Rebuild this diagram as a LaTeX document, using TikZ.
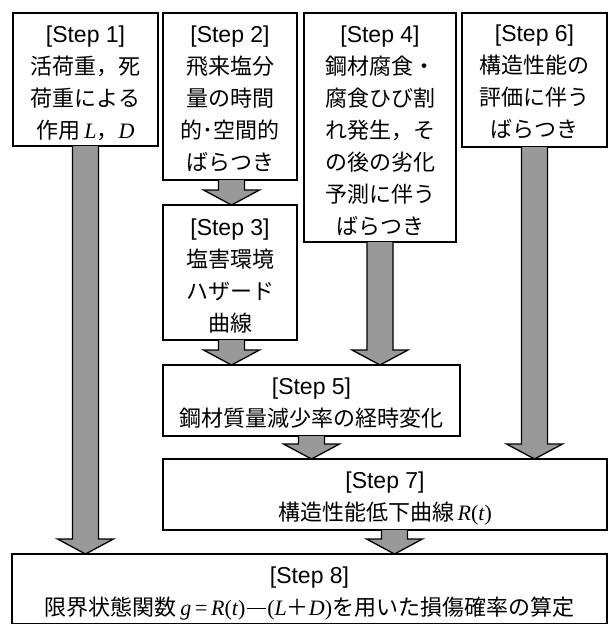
\documentclass[tikz,border=0pt]{standalone}
\usepackage{fontspec}
\setmainfont{Liberation Sans}
\newfontfamily\jp{Noto Sans CJK JP}
\newfontfamily\tms{Liberation Serif}
\usetikzlibrary{calc}
\definecolor{arrowgray}{RGB}{153,153,153}
\newcommand\stp[1]{{\fontsize{23}{31}\selectfont [Step #1]}}
\newcommand\mi[1]{{\tms\itshape #1}}
\newcommand\longminus{\kern1.5pt\rule[7pt]{19pt}{1.3pt}\kern1.5pt}
\newcommand\blockarrow[3][0]{%
  \path ($(#2.south)+(#1,0)$) coordinate (as) (as |- #3.north) coordinate (at);
  \draw[blkarrow] ($(as)+(-13,0)$) -- ($(at)+(-13,-15)$) -- ($(at)+(-28,-15)$) -- (at)
    -- ($(at)+(28,-15)$) -- ($(at)+(13,-15)$) -- ($(as)+(13,0)$);
}
\tikzset{
  stepbox/.style={draw=black, line width=1.6pt, fill=white, inner sep=0pt, outer sep=0pt},
  steptext/.style={inner sep=0pt, align=center, font=\fontsize{22}{32}\selectfont},
  blkarrow/.style={draw=black, line width=1.3pt, fill=arrowgray, line join=miter}
}
\begin{document}
\begin{tikzpicture}[x=1pt,y=-1pt]
\useasboundingbox (0,0) rectangle (608,624);
\node[stepbox, minimum width=145, minimum height=133] (b1) at (85.5,79.5) {};
\node[steptext] (t1) at ($(b1.center)+(0,4)$)
  {\stp{1}\\{\jp 活荷重，死}\\{\jp 荷重による}\\{\jp 作用}\,\mi{L}{\jp ，}\mi{D}};
\node[stepbox, minimum width=134, minimum height=167] (b2) at (230,96.5) {};
\node[steptext] (t2) at ($(b2.center)+(0,2)$)
  {\stp{2}\\{\jp 飛来塩分}\\{\jp 量の時間}\\{\jp 的･空間的}\\{\jp ばらつき}};
\node[stepbox, minimum width=134, minimum height=135] (b3) at (230,272.5) {};
\node[steptext] (t3) at ($(b3.center)+(0,4)$)
  {\stp{3}\\{\jp 塩害環境}\\{\jp ハザード}\\{\jp 曲線}};
\node[stepbox, minimum width=152, minimum height=229] (b4) at (380,127.5) {};
\node[steptext] (t4) at ($(b4.center)+(0,3)$)
  {\stp{4}\\{\jp 鋼材腐食・}\\{\jp 腐食ひび割}\\{\jp れ発生，そ}\\{\jp の後の劣化}\\{\jp 予測に伴う}\\{\jp ばらつき}};
\node[stepbox, minimum width=145, minimum height=134] (b6) at (534.5,80) {};
\node[steptext] (t6) at ($(b6.center)+(0,2)$)
  {\stp{6}\\{\jp 構造性能の}\\{\jp 評価に伴う}\\{\jp ばらつき}};
\node[stepbox, minimum width=297, minimum height=71] (b5) at (311.5,400.5) {};
\node[steptext] (t5) at ($(b5.center)+(0,3)$)
  {\stp{5}\\{\jp 鋼材質量減少率の経時変化}};
\node[stepbox, minimum width=444, minimum height=71] (b7) at (385,494.5) {};
\node[steptext] (t7) at ($(b7.center)+(0,4)$)
  {\stp{7}\\{\jp 構造性能低下曲線}\,\mi{R}{\tms(}\mi{t}{\tms)}};
\node[stepbox, minimum width=595, minimum height=70] (b8) at (309.5,589) {};
\node[steptext] (t8) at ($(b8.center)+(0,5)$)
  {\stp{8}\\{\jp 限界状態関数}\,\mi{g}{\tms\,=\,}\mi{R}{\tms(}\mi{t}{\tms)}\longminus{\tms(}\mi{L}{\jp ＋}\mi{D}{\tms)}{\jp を用いた損傷確率の算定}};
\blockarrow{b1}{b8}
\blockarrow[1.5]{b2}{b3}
\blockarrow[1.5]{b3}{b5}
\blockarrow{b4}{b5}
\blockarrow{b6}{b7}
\blockarrow{b5}{b7}
\blockarrow[9.5]{b7}{b8}
\end{tikzpicture}
\end{document}
